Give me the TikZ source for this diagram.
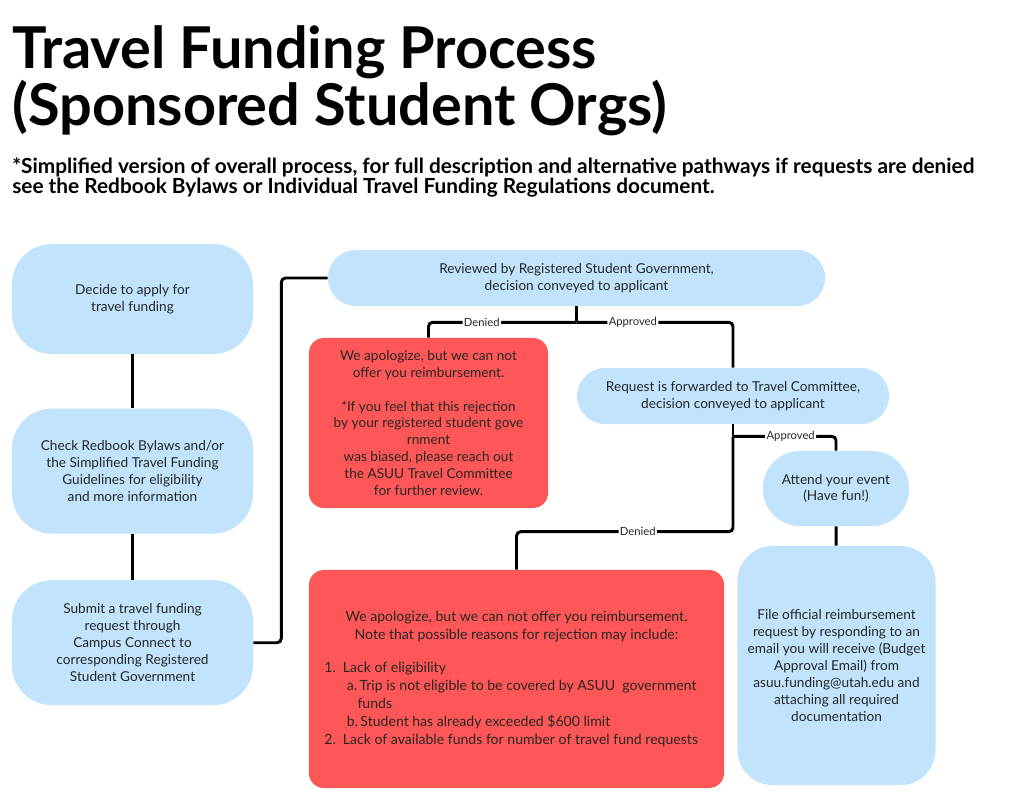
\documentclass[tikz,border=0pt]{standalone}
\usepackage{fontspec}
\setmainfont{Lato}
\usetikzlibrary{positioning,calc}
\definecolor{canvaCielo}{HTML}{C1E4FC}
\definecolor{canvaRojo}{HTML}{FF5757}
\colorlet{colTexto}{black!85}

\begin{document}
\begin{tikzpicture}[
  x=0.025cm, y=-0.025cm,
  font=\fontsize{9.7}{12}\selectfont,
  procbox/.style={
    rectangle, fill=canvaCielo, text=colTexto,
    align=center, inner sep=2pt, rounded corners=1cm
  },
  pillbox/.style={procbox, rounded corners=0.7cm},
  denybox/.style={procbox, fill=canvaRojo, rounded corners=0.375cm},
  link/.style={draw=black, line width=2.1pt, rounded corners=3pt},
  lbl/.style={fill=white, inner sep=1pt, text=colTexto,
    font=\fontsize{8}{9}\selectfont}
]
  \useasboundingbox (0,0) rectangle (1024,791);

  % Heading
  \node[anchor=north west, inner sep=0, align=left,
    font=\fontsize{41}{36}\selectfont\bfseries] (title) at (12,25)
    {Travel Funding Process\\(Sponsored Student Orgs)};
  \node[anchor=north west, inner sep=0, align=left,
    font=\fontsize{14.8}{14.4}\selectfont\bfseries] (note) at (12,157)
    {*Simplified version of overall process, for full description and alternative pathways if requests are denied\\
     see the Redbook Bylaws or Individual Travel Funding Regulations document.};

  % Left column
  \node[procbox, minimum width=6.025cm, minimum height=2.75cm] (decide) at (132.5,299)
    {Decide to apply for\\travel funding};
  \node[procbox, minimum width=6.025cm, minimum height=3.125cm, below=1.35cm of decide] (check)
    {Check Redbook Bylaws and/or\\the Simplified Travel Funding\\Guidelines for eligibility\\and more information};
  \node[procbox, minimum width=6.025cm, minimum height=3.125cm, below=1.15cm of check] (submit)
    {Submit a travel funding\\request through\\Campus Connect to\\corresponding Registered\\Student Government};

  % Student government review
  \node[pillbox, minimum width=12.425cm, minimum height=1.4cm] (rsgreview) at (576.5,278)
    {Reviewed by Registered Student Government,\\decision conveyed to applicant};
  \node[denybox, minimum width=5.975cm, minimum height=4.25cm] (rsgdeny) at (428.5,423)
    {We apologize, but we can not\\offer you reimbursement.\\[12pt]
     *If you feel that this rejection\\by your registered student gove\\rnment\\
     was biased, please reach out\\the ASUU Travel Committee\\for further review.};

  % Travel committee
  \node[pillbox, minimum width=7.8cm, minimum height=1.4cm] (tcreview) at (733,396)
    {Request is forwarded to Travel Committee,\\decision conveyed to applicant};
  \node[procbox, minimum width=3.65cm, minimum height=1.875cm, rounded corners=0.92cm] (attend) at (836,488.5)
    {Attend your event\\(Have fun!)};
  \node[procbox, minimum width=4.95cm, minimum height=5.975cm, rounded corners=0.875cm] (reimburse) at (836.5,665.5)
    {File official reimbursement\\request by responding to an\\email you will receive (Budget\\
     Approval Email) from\\asuu.funding@utah.edu and\\attaching all required\\documentation};
  \node[denybox, minimum width=10.375cm, minimum height=5.45cm, font=\fontsize{10}{12.8}\selectfont] (tcdeny) at (516.5,679)
    {We apologize, but we can not offer you reimbursement.\\
     Note that possible reasons for rejection may include:\\[12.8pt]
     \parbox{9.6cm}{\raggedright
       1.\enspace Lack of eligibility\\
       \hspace*{1.6em}a.\,Trip is not eligible to be covered by ASUU\ \ government\\
       \hspace*{2.35em}funds\\
       \hspace*{1.6em}b.\,Student has already exceeded \$600 limit\\
       2.\enspace Lack of available funds for number of travel fund requests}};

  % Connections
  \draw[link] (decide) -- (check);
  \draw[link] (check) -- (submit);
  \draw[link] (submit.east) -- ([xshift=0.7cm]submit.east) |- (rsgreview.west);
  \draw[link] (rsgreview.south) -- ++(0,16) coordinate (rsgsplit);
  \draw[link] (rsgsplit) -| node[lbl, pos=0.32] {Denied} (rsgdeny.north);
  \draw[link] (rsgsplit) -| node[lbl, pos=0.18] {Approved} (tcreview.north);
  \draw[link] (tcreview.south) -- ++(0,12) coordinate (tcsplit);
  \draw[link] (tcsplit) -| node[lbl, pos=0.28] {Approved} (attend.north);
  \draw[link] (tcsplit) |- node[lbl, pos=0.72] {Denied} ([yshift=0.95cm]tcdeny.north) -- (tcdeny.north);
  \draw[link] (attend) -- (reimburse);

\end{tikzpicture}
\end{document}
